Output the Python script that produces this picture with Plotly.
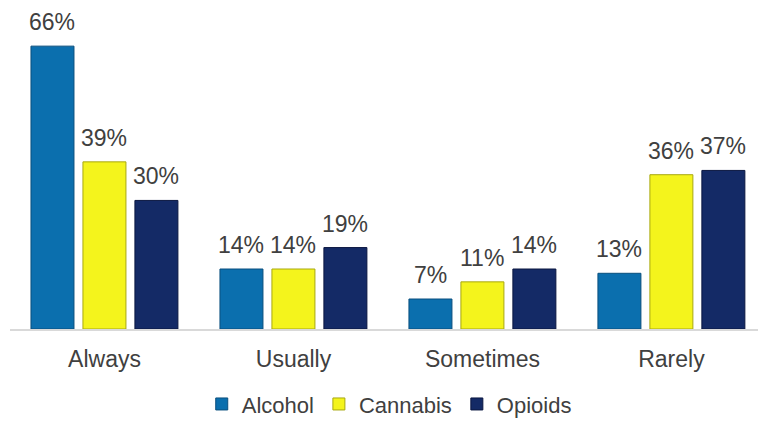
import plotly.graph_objects as go

categories = ["Always", "Usually", "Sometimes", "Rarely"]
alcohol = [66, 14, 7, 13]
cannabis = [39, 14, 11, 36]
opioids = [30, 19, 14, 37]

series = [
    ("Alcohol", alcohol, "#0b6fae", "#0a4f7e"),
    ("Cannabis", cannabis, "#f4f41c", "#a8a810"),
    ("Opioids", opioids, "#142a66", "#0a1640"),
]

bar_w = 0.2275
offsets = [-0.389, -0.114, 0.161]
cat_px = 189

fig = go.Figure()
annotations = []
for (name, vals, col, line), off in zip(series, offsets):
    fig.add_trace(go.Bar(
        name=name, x=categories, y=vals,
        width=bar_w, offset=off,
        marker=dict(color=col, line=dict(color=line, width=1)),
    ))
    center_px = (off + bar_w / 2) * cat_px
    for c, v in zip(categories, vals):
        annotations.append(dict(
            x=c, y=v, xref="x", yref="y", text=f"{v}%", showarrow=False,
            xanchor="center", yanchor="bottom", xshift=center_px, yshift=9,
            font=dict(size=23, color="#404040", family="Liberation Sans, Arial"),
        ))

fig.update_layout(
    width=758, height=421,
    margin=dict(l=10, r=0, t=29, b=92),
    barmode="overlay",
    plot_bgcolor="white", paper_bgcolor="white",
    font=dict(family="Liberation Sans, Arial", color="#404040", size=22),
    showlegend=True,
    annotations=annotations,
    legend=dict(orientation="h", x=0.507, xanchor="center", yref="container",
                y=0.04, yanchor="middle", borderwidth=0,
                font=dict(size=22, color="#404040"), itemwidth=30,
                traceorder="normal"),
    xaxis=dict(range=[-0.5, 3.458], showgrid=False, showline=True,
               linecolor="#d9d9d9", linewidth=2, ticks="", ticklabelstandoff=8,
               tickfont=dict(size=23, color="#404040")),
    yaxis=dict(range=[0, 70], visible=False, showgrid=False),
)

fig.write_html("out.html")
